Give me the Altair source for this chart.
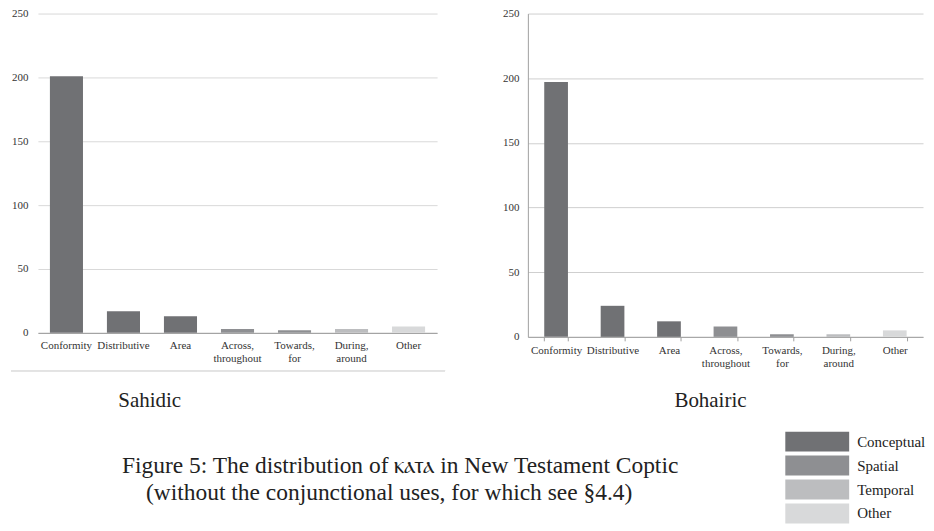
import altair as alt
import pandas as pd

categories = ["Conformity", "Distributive", "Area", "Across, throughout",
              "Towards, for", "During, around", "Other"]
sahidic_counts = [201, 17, 13, 3, 2, 3, 5]
bohairic_counts = [197, 24, 12, 8, 2, 2, 5]
category_types = ["Conceptual", "Conceptual", "Conceptual", "Spatial",
                  "Spatial", "Temporal", "Other"]
legend_types = ["Conceptual", "Spatial", "Temporal", "Other"]
legend_colors = ["#707174", "#8e8f92", "#bcbdbf", "#d8d9da"]
y_ticks = [0, 50, 100, 150, 200, 250]

panel_titles = ["Sahidic", "Bohairic"]
caption_line1 = "Figure 5: The distribution of \u2c95\u2c81\u2ca7\u2c81 in New Testament Coptic"
caption_line2 = "(without the conjunctional uses, for which see \u00a74.4)"

FONT = "Liberation Serif, Times New Roman, DejaVu Serif, serif"

df_s = pd.DataFrame({"category": categories, "count": sahidic_counts, "type": category_types})
df_b = pd.DataFrame({"category": categories, "count": bohairic_counts, "type": category_types})

color = alt.Color(
    "type:N",
    scale=alt.Scale(domain=legend_types, range=legend_colors),
    legend=alt.Legend(
        title=None, orient="none", legendX=771, legendY=419,
        symbolType="M-3.2,-1H3.2V1H-3.2Z", symbolSize=400,
        symbolStrokeWidth=0, symbolOpacity=1,
        labelFont=FONT, labelFontSize=15, labelColor="#222",
        labelOffset=30, rowPadding=4, padding=0,
    ),
)


def text_layer(txt, x, y, size):
    return alt.Chart(pd.DataFrame({"t": [txt]})).mark_text(
        font=FONT, fontSize=size, color="#222", align="center", baseline="middle"
    ).encode(text="t:N", x=alt.value(x), y=alt.value(y))


left_bars = alt.Chart(df_s).mark_bar().encode(
    x=alt.X("category:N", sort=categories,
            scale=alt.Scale(paddingInner=0.42, paddingOuter=0.21),
            axis=alt.Axis(title=None, labelAngle=0, labelExpr="split(datum.label, ' ')",
                          ticks=False, domainColor="#9a9a9a", labelFont=FONT,
                          labelFontSize=11, labelColor="#333", labelPadding=7,
                          labelLineHeight=13, grid=False)),
    y=alt.Y("count:Q", scale=alt.Scale(domain=[0, 250], nice=False),
            axis=alt.Axis(title=None, values=y_ticks, ticks=False, domain=False,
                          gridColor="#d9d9d9", labelFont=FONT, labelFontSize=11,
                          labelColor="#333", labelPadding=10)),
    color=color,
)
left_border = alt.Chart(df_s).mark_rule(color="#e2e2e2", strokeWidth=1).encode(
    x=alt.value(-27), x2=alt.value(408), y=alt.value(358)
)
left = alt.layer(
    left_bars, left_border,
    text_layer(panel_titles[0], 112, 388, 21),
    text_layer(caption_line1, 363, 453, 23.5),
    text_layer(caption_line2, 352, 481, 23.5),
).properties(width=400, height=320)

right_bars = alt.Chart(df_b).mark_bar().encode(
    x=alt.X("category:N", sort=categories,
            scale=alt.Scale(paddingInner=0.58, paddingOuter=0.29),
            axis=alt.Axis(title=None, labelAngle=0, labelExpr="split(datum.label, ' ')",
                          ticks=True, tickBand="extent", tickSize=4, tickColor="#a0a0a0",
                          domainColor="#a0a0a0", labelFont=FONT, labelFontSize=11,
                          labelColor="#333", labelPadding=4, labelLineHeight=13,
                          grid=False)),
    y=alt.Y("count:Q", scale=alt.Scale(domain=[0, 250], nice=False),
            axis=alt.Axis(title=None, values=y_ticks, ticks=False, domain=True,
                          domainColor="#a0a0a0", gridColor="#cfcfcf", labelFont=FONT,
                          labelFontSize=11, labelColor="#333", labelPadding=9)),
    color=color,
)
right = alt.layer(
    right_bars,
    text_layer(panel_titles[1], 183, 388, 21),
).properties(width=396, height=324)

chart = alt.hconcat(left, right, spacing=91, bounds="flush").properties(
    padding={"left": 2, "top": -1, "right": 0, "bottom": 0},
).configure_view(stroke=None)

chart.save("out.html", embed_options={"renderer": "svg", "actions": False})
